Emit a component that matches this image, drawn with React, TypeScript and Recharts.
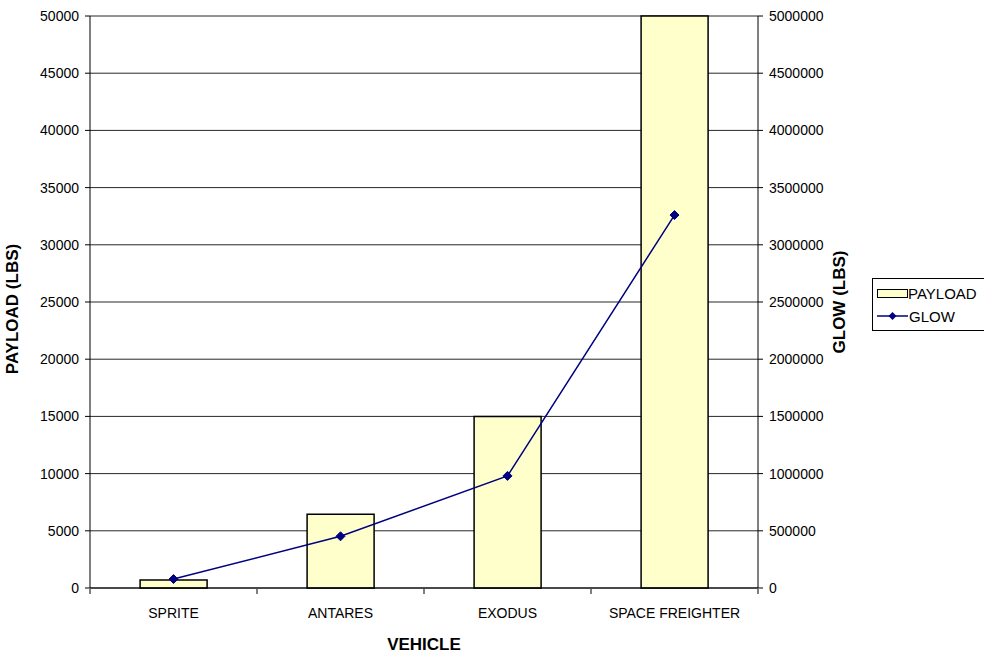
import React from 'react';
import { ComposedChart, Bar, Line, XAxis, YAxis, CartesianGrid, Legend } from 'recharts';

// Vehicles and their values
const vehicles = ['SPRITE', 'ANTARES', 'EXODUS', 'SPACE FREIGHTER'];
const payload = [700, 6450, 15000, 50000];
const glow = [78000, 452000, 980000, 3260000];

const payloadTicks = [0, 5000, 10000, 15000, 20000, 25000, 30000, 35000, 40000, 45000, 50000];
const glowTicks = [0, 500000, 1000000, 1500000, 2000000, 2500000, 3000000, 3500000, 4000000, 4500000, 5000000];
const separatorTicks = [0, 1, 2, 3, 4];

const data = vehicles.map((name, i) => ({ name, payload: payload[i], glow: glow[i] }));

const FONT = '"Liberation Sans", Arial, sans-serif';
const NAVY = '#000080';
const BAR_FILL = '#FFFFCC';

const Diamond = (props: any) => {
  const { cx, cy, index } = props;
  if (cx == null || cy == null) return null;
  const s = 4.5;
  return <path key={index} d={`M${cx},${cy - s}L${cx + s},${cy}L${cx},${cy + s}L${cx - s},${cy}Z`} fill={NAVY} stroke={NAVY} />;
};

const LegendBox = () => (
  <div style={{ border: '1px solid #000', width: 118, height: 53, boxSizing: 'border-box', fontFamily: FONT, fontSize: 15, color: '#000', background: '#fff' }}>
    <div style={{ display: 'flex', alignItems: 'center', height: 20, marginTop: 4 }}>
      <svg width={35} height={12}>
        <rect x={4.5} y={2.5} width={30} height={8} fill={BAR_FILL} stroke="#000" />
      </svg>
      <span>PAYLOAD</span>
    </div>
    <div style={{ display: 'flex', alignItems: 'center', height: 20, marginTop: 3 }}>
      <svg width={36} height={12}>
        <line x1={4} y1={6} x2={35} y2={6} stroke={NAVY} strokeWidth={1.5} />
        <path d="M19.5,2L23.5,6L19.5,10L15.5,6Z" fill={NAVY} />
      </svg>
      <span>GLOW</span>
    </div>
  </div>
);

const axisLabel = { fontFamily: FONT, fontSize: 17, fontWeight: 'bold', fill: '#000' };
const tickStyle = { fontFamily: FONT, fontSize: 14, fill: '#000' };

const App = () => {
  return (
    <div style={{ position: 'absolute', left: 0, top: 0, width: 984, height: 654, background: '#fff' }}>
      <ComposedChart
        width={984}
        height={654}
        data={data}
        margin={{ top: 16, right: 0, bottom: 6, left: 0 }}
        barCategoryGap="30%"
      >
        <CartesianGrid yAxisId="left" vertical={false} stroke="#000" strokeOpacity={0.85} />
        <XAxis
          dataKey="name"
          height={1}
          tickLine={false}
          axisLine={{ stroke: '#000' }}
          tick={tickStyle}
          tickMargin={14}
          interval={0}
        />
        <XAxis
          xAxisId="sep"
          type="number"
          dataKey="payload"
          domain={[0, 4]}
          allowDataOverflow
          ticks={separatorTicks}
          interval={0}
          height={59}
          tick={() => <g />}
          axisLine={false}
          tickSize={5}
          tickLine={{ stroke: '#000' }}
          label={{ value: 'VEHICLE', position: 'insideBottom', offset: -2, style: axisLabel }}
        />
        <YAxis
          yAxisId="left"
          width={90}
          domain={[0, 50000]}
          ticks={payloadTicks}
          interval={0}
          axisLine={{ stroke: '#000' }}
          tickLine={{ stroke: '#000' }}
          tickSize={5}
          tickMargin={6}
          tick={tickStyle}
          label={{ value: 'PAYLOAD (LBS)', angle: -90, position: 'insideLeft', offset: 12, dy: 7, style: { ...axisLabel, textAnchor: 'middle' } }}
        />
        <YAxis
          yAxisId="right"
          orientation="right"
          width={226}
          domain={[0, 5000000]}
          ticks={glowTicks}
          interval={0}
          axisLine={{ stroke: '#000' }}
          tickLine={{ stroke: '#000' }}
          tickSize={5}
          tickMargin={6}
          tick={tickStyle}
          label={{ value: 'GLOW (LBS)', angle: -90, position: 'insideLeft', offset: 81, style: { ...axisLabel, textAnchor: 'middle' } }}
        />
        <Legend
          layout="vertical"
          align="center"
          verticalAlign="middle"
          content={<LegendBox />}
          wrapperStyle={{ left: 872, top: 278, width: 118 }}
        />
        <Bar yAxisId="left" dataKey="payload" name="PAYLOAD" fill={BAR_FILL} stroke="#000" strokeWidth={1.5} isAnimationActive={false} />
        <Line
          yAxisId="right"
          dataKey="glow"
          name="GLOW"
          type="linear"
          stroke={NAVY}
          strokeWidth={1.5}
          dot={Diamond}
          activeDot={false}
          isAnimationActive={false}
        />
      </ComposedChart>
    </div>
  );
};

export default App;
